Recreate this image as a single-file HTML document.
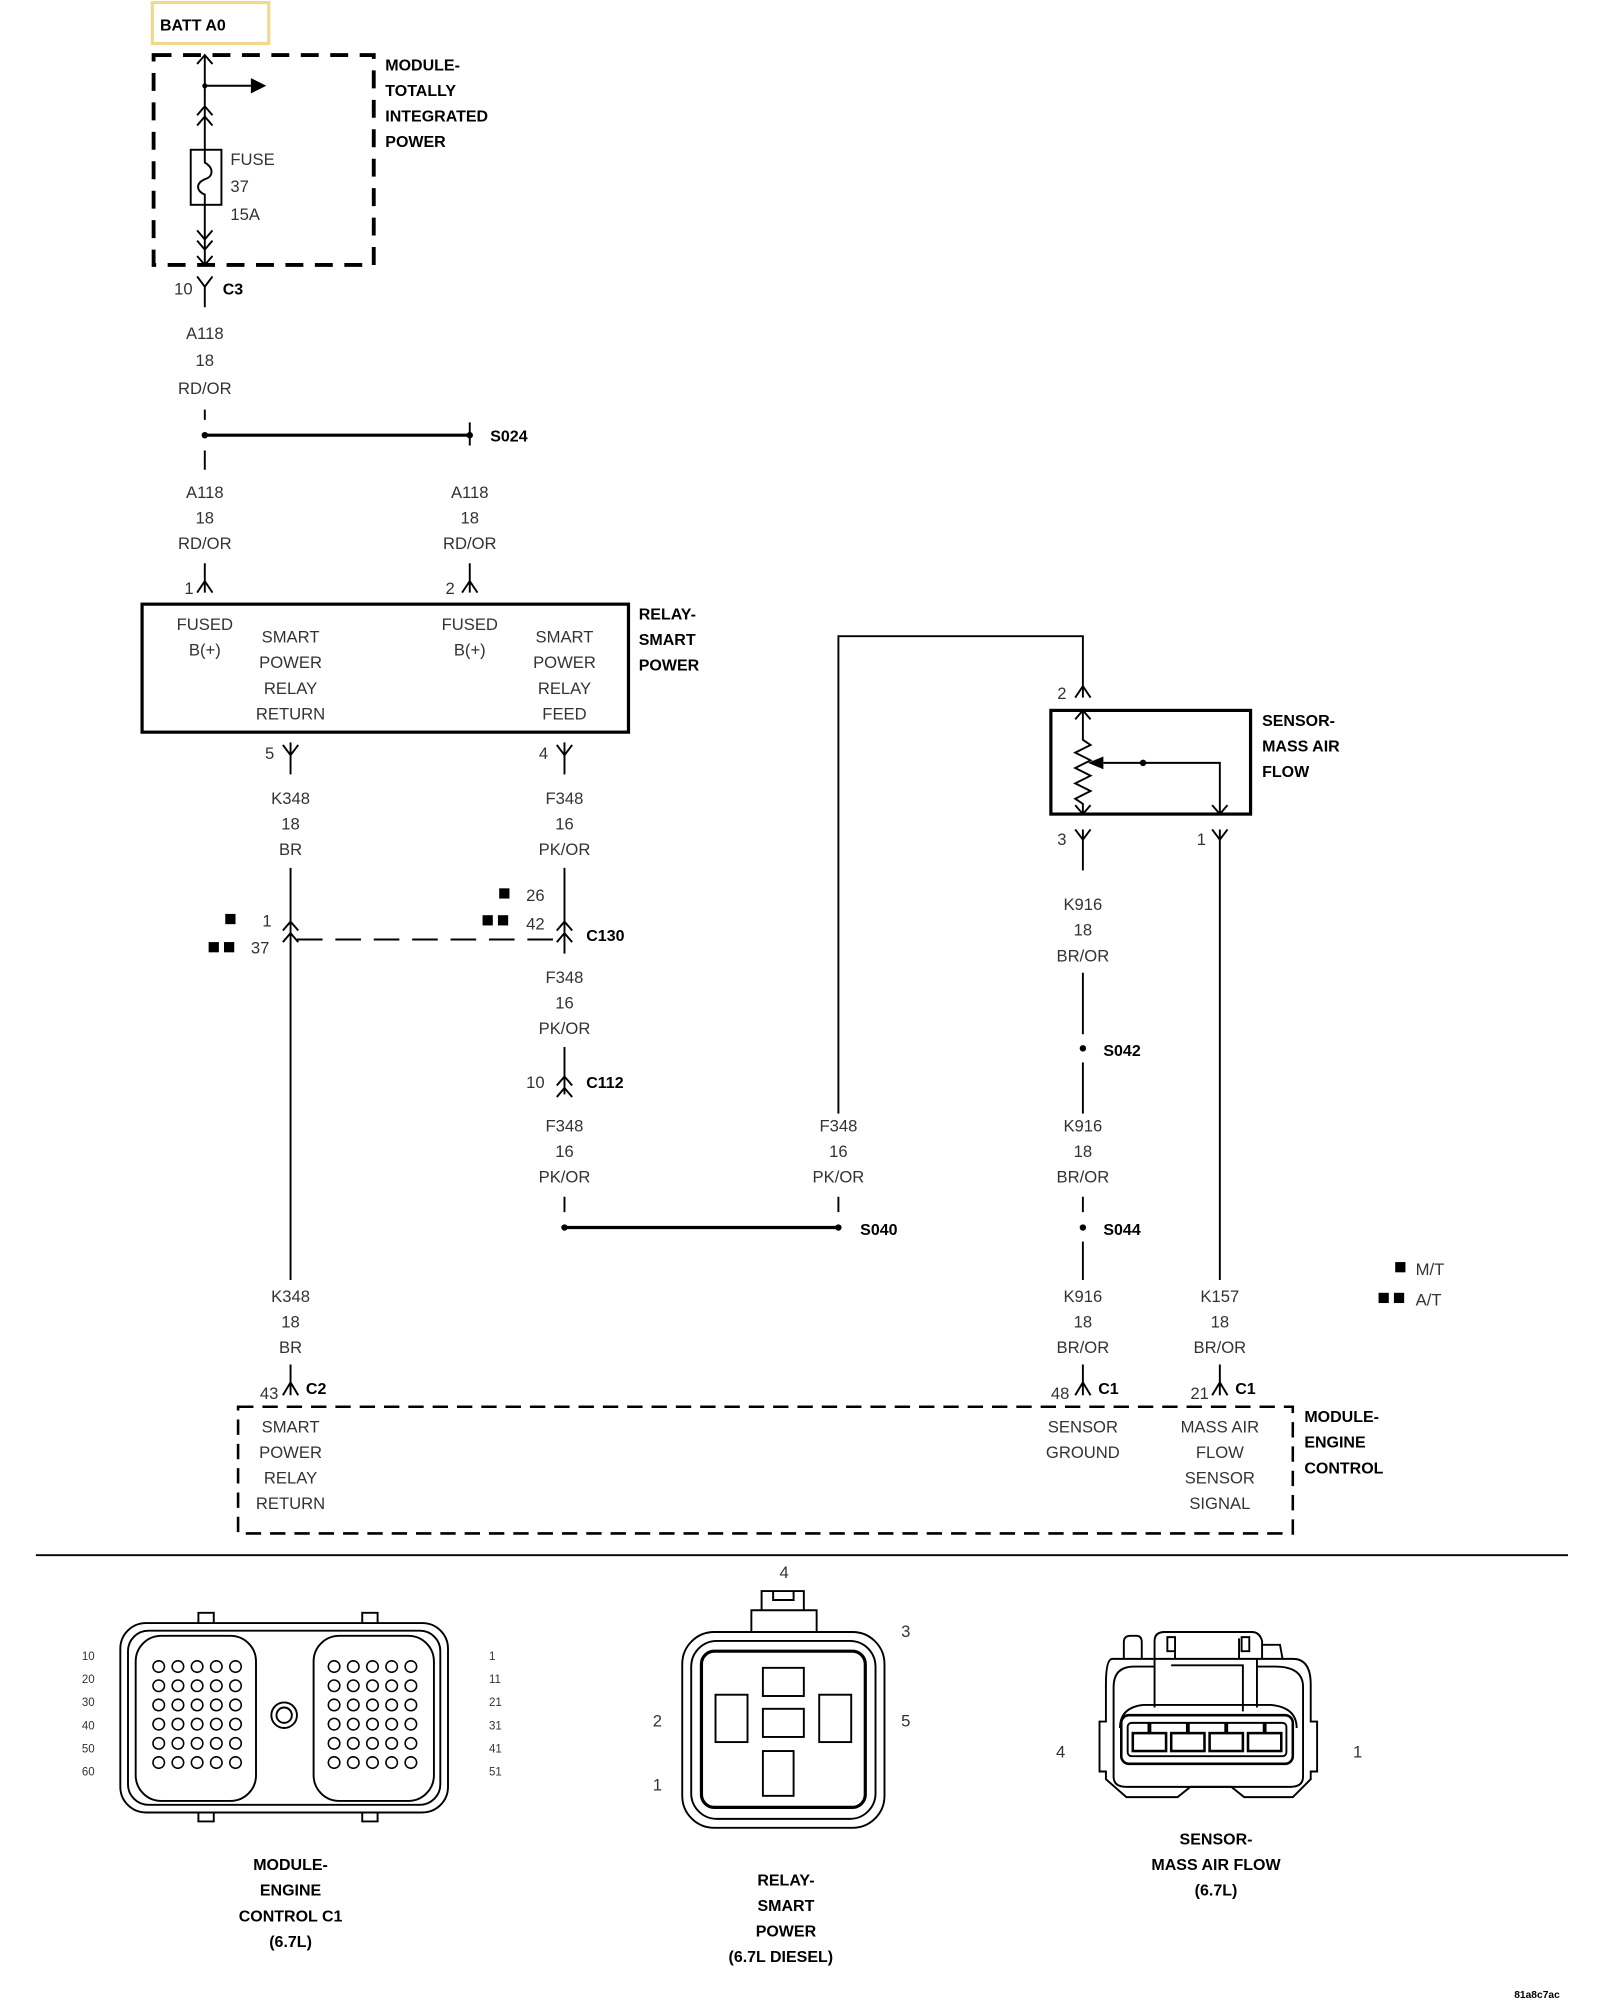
<!DOCTYPE html>
<html><head><style>html,body{margin:0;padding:0;background:#fff}svg{display:block}
text{font-family:"Liberation Sans",sans-serif;font-size:13px;fill:#333}
.b{font-weight:bold;fill:#000;font-size:12.5px}.m{text-anchor:middle}</style></head><body>
<svg width="1600" height="2000" viewBox="0 0 1250 1562.5" xmlns="http://www.w3.org/2000/svg">
<g fill="none" stroke="#000" stroke-width="1.5">
<rect x="119" y="2" width="91" height="32" stroke="#f0d890" stroke-width="2.5"/>
<rect x="120" y="43" width="172" height="164" stroke-width="3" stroke-dasharray="14 9"/>
<path d="M160 43V207M154 50L160 43L166 50M160 67H196M154 90L160 83L166 90M154 98L160 91L166 98M154 180L160 187L166 180M154 188L160 195L166 188M154 200L160 207L166 200"/>
<rect x="149" y="117" width="24" height="43" fill="#fff"/>
<path d="M160 117V127C167 131 167 138 160 140C153 143 153 149 160 152V160"/>
<path d="M154 216L160 224L166 216M160 224V240M160 320V328M160 352V367M367 330V348" />
<path d="M160 340H367" stroke-width="2.5"/>
<path d="M160 440V463M154 463L160 454L166 463M367 440V463M361 463L367 454L373 463"/>
<rect x="111" y="472" width="380" height="100" stroke-width="2.5"/>
<path d="M221 582L227 590L233 582M227 580V605M435 582L441 590L447 582M441 580V605"/>
<path d="M227 678V1000M221 727L227 720L233 727M221 736L227 729L233 736"/>
<path d="M441 678V745M435 727L441 720L447 727M435 736L441 729L447 736"/>
<path d="M232 734H437" stroke-dasharray="20 10"/>
<path d="M441 818V855M435 848L441 841L447 848M435 857L441 850L447 857M441 935V947"/>
<path d="M441 959H655" stroke-width="2.5"/>
<path d="M655 870V497H846V545M840 545L846 536L852 545M655 935V947"/>
<rect x="821" y="555" width="156" height="81" stroke-width="2.5"/>
<path d="M846 555V578L852 582L840 588L852 594L840 600L852 606L840 612L852 618L840 624L846 628V636M840 562L846 555L852 562M840 629L846 636L852 629"/>
<path d="M862 596H953V636M947 629L953 636L959 629"/>
<path d="M840 648L846 656L852 648M846 648V680M947 648L953 656L959 648M953 648V1000"/>
<path d="M846 760V808M846 830V870M846 935V947M846 970V1000M846 1066V1090M840 1090L846 1080L852 1090M953 1066V1090M947 1090L953 1080L959 1090M227 1066V1090M221 1090L227 1080L233 1090"/>
<rect x="186" y="1099" width="824" height="99" stroke-width="2" stroke-dasharray="12 7"/>
<path d="M28 1215H1225" stroke-width="1.5"/>
<rect x="94" y="1268" width="256" height="148" rx="20"/>
<rect x="100" y="1274" width="244" height="136" rx="16"/>
<rect x="106" y="1278" width="94" height="129" rx="20"/>
<rect x="245" y="1278" width="94" height="129" rx="20"/>
<circle cx="222" cy="1340" r="10"/><circle cx="222" cy="1340" r="6"/>
<path d="M155 1268V1260H167V1268M283 1268V1260H295V1268M155 1416V1423H167V1416M283 1416V1423H295V1416"/>
<rect x="533" y="1275" width="158" height="153" rx="25"/>
<rect x="540" y="1282" width="144" height="139" rx="20"/>
<rect x="548" y="1290" width="128" height="122" rx="10" stroke-width="2.5"/>
<path d="M587 1275V1258H638V1275M595 1258V1243H628V1258M604 1243V1250H620V1243"/>
<rect x="596" y="1303" width="32" height="22"/><rect x="559" y="1324" width="25" height="37"/><rect x="640" y="1324" width="25" height="37"/><rect x="596" y="1335" width="32" height="22"/><rect x="596" y="1368" width="24" height="35"/>
<path d="M878 1296V1283Q878 1278 883 1278H888Q892 1278 892 1283V1296"/>
<path d="M902 1296V1282Q902 1275 910 1275H978Q984 1275 986 1282V1296"/>
<path d="M986 1285H1000L1002 1296"/>
<path d="M869 1296H1010Q1024 1296 1024 1316V1345H1029V1384H1024V1390L1010 1404H972L962 1396H930L920 1404H880L864 1390V1384H859V1345H864V1316Q864 1296 869 1296Z"/>
<path d="M902 1302H886Q870 1302 870 1318V1388Q870 1396 880 1396H1008Q1018 1396 1018 1388V1318Q1018 1302 996 1302H982"/>
<path d="M902 1296V1334M982 1296V1334M915 1301H971V1337"/>
<path d="M918 1280V1296M968 1280V1296M912 1279H918V1290H912ZM970 1279H976V1290H970Z"/>
<path d="M875 1350Q875 1334 893 1332H993Q1013 1334 1013 1350"/>
<rect x="876" y="1340" width="134" height="38" rx="6" stroke-width="2"/>
<rect x="881" y="1346" width="124" height="26" rx="3"/>
<rect x="885" y="1354" width="26" height="14" stroke-width="2"/><rect x="915" y="1354" width="26" height="14" stroke-width="2"/><rect x="945" y="1354" width="26" height="14" stroke-width="2"/><rect x="975" y="1354" width="26" height="14" stroke-width="2"/>
<path d="M898 1346V1354M928 1346V1354M958 1346V1354M988 1346V1354" stroke-width="3"/>
</g>
<g fill="#000">
<polygon points="196,61 208,67 196,73"/>
<circle cx="160" cy="67" r="2"/>
<circle cx="160" cy="340" r="2.5"/><circle cx="367" cy="340" r="2.5"/>
<circle cx="441" cy="959" r="2.5"/><circle cx="655" cy="959" r="2.5"/>
<circle cx="846" cy="819" r="2.5"/><circle cx="846" cy="959" r="2.5"/>
<circle cx="893" cy="596" r="2.5"/>
<polygon points="850,596 862,591 862,601"/>
<rect x="176" y="714" width="8" height="8"/><rect x="163" y="736" width="8" height="8"/><rect x="175" y="736" width="8" height="8"/>
<rect x="390" y="694" width="8" height="8"/><rect x="377" y="715" width="8" height="8"/><rect x="389" y="715" width="8" height="8"/>
<rect x="1090" y="986" width="8" height="8"/><rect x="1077" y="1010" width="8" height="8"/><rect x="1089" y="1010" width="8" height="8"/>
</g>
<g fill="none" stroke="#000" stroke-width="1.2">
<g id="hl">
<circle cx="124" cy="1302" r="4.5"/><circle cx="139" cy="1302" r="4.5"/><circle cx="154" cy="1302" r="4.5"/><circle cx="169" cy="1302" r="4.5"/><circle cx="184" cy="1302" r="4.5"/>
</g>
<use href="#hl" y="15"/><use href="#hl" y="30"/><use href="#hl" y="45"/><use href="#hl" y="60"/><use href="#hl" y="75"/>
<use href="#hl" x="137"/><use href="#hl" x="137" y="15"/><use href="#hl" x="137" y="30"/><use href="#hl" x="137" y="45"/><use href="#hl" x="137" y="60"/><use href="#hl" x="137" y="75"/>
</g>
<text x="125" y="24" class="b">BATT A0</text>
<text x="301" y="55" class="b">MODULE-</text><text x="301" y="75" class="b">TOTALLY</text><text x="301" y="95" class="b">INTEGRATED</text><text x="301" y="115" class="b">POWER</text>
<text x="180" y="129">FUSE</text><text x="180" y="150">37</text><text x="180" y="172">15A</text>
<text x="136" y="230">10</text><text x="174" y="230" class="b">C3</text>
<text x="160" y="265" class="m">A118</text><text x="160" y="286" class="m">18</text><text x="160" y="308" class="m">RD/OR</text>
<text x="160" y="389" class="m">A118</text><text x="160" y="409" class="m">18</text><text x="160" y="429" class="m">RD/OR</text>
<text x="367" y="389" class="m">A118</text><text x="367" y="409" class="m">18</text><text x="367" y="429" class="m">RD/OR</text>
<text x="160" y="492" class="m">FUSED</text><text x="160" y="512" class="m">B(+)</text>
<text x="367" y="492" class="m">FUSED</text><text x="367" y="512" class="m">B(+)</text>
<text x="227" y="502" class="m">SMART</text><text x="227" y="522" class="m">POWER</text><text x="227" y="542" class="m">RELAY</text><text x="227" y="562" class="m">RETURN</text>
<text x="441" y="502" class="m">SMART</text><text x="441" y="522" class="m">POWER</text><text x="441" y="542" class="m">RELAY</text><text x="441" y="562" class="m">FEED</text>
<text x="227" y="628" class="m">K348</text><text x="227" y="648" class="m">18</text><text x="227" y="668" class="m">BR</text>
<text x="441" y="628" class="m">F348</text><text x="441" y="648" class="m">16</text><text x="441" y="668" class="m">PK/OR</text>
<text x="441" y="768" class="m">F348</text><text x="441" y="788" class="m">16</text><text x="441" y="808" class="m">PK/OR</text>
<text x="441" y="884" class="m">F348</text><text x="441" y="904" class="m">16</text><text x="441" y="924" class="m">PK/OR</text>
<text x="655" y="884" class="m">F348</text><text x="655" y="904" class="m">16</text><text x="655" y="924" class="m">PK/OR</text>
<text x="846" y="884" class="m">K916</text><text x="846" y="904" class="m">18</text><text x="846" y="924" class="m">BR/OR</text>
<text x="846" y="711" class="m">K916</text><text x="846" y="731" class="m">18</text><text x="846" y="751" class="m">BR/OR</text>
<text x="846" y="1017" class="m">K916</text><text x="846" y="1037" class="m">18</text><text x="846" y="1057" class="m">BR/OR</text>
<text x="953" y="1017" class="m">K157</text><text x="953" y="1037" class="m">18</text><text x="953" y="1057" class="m">BR/OR</text>
<text x="227" y="1017" class="m">K348</text><text x="227" y="1037" class="m">18</text><text x="227" y="1057" class="m">BR</text>
<text x="227" y="1119" class="m">SMART</text><text x="227" y="1139" class="m">POWER</text><text x="227" y="1159" class="m">RELAY</text><text x="227" y="1179" class="m">RETURN</text>
<text x="846" y="1119" class="m">SENSOR</text><text x="846" y="1139" class="m">GROUND</text>
<text x="953" y="1119" class="m">MASS AIR</text><text x="953" y="1139" class="m">FLOW</text><text x="953" y="1159" class="m">SENSOR</text><text x="953" y="1179" class="m">SIGNAL</text>
<text x="227" y="1461" class="b m">MODULE-</text><text x="227" y="1481" class="b m">ENGINE</text><text x="227" y="1501" class="b m">CONTROL C1</text><text x="227" y="1521" class="b m">(6.7L)</text>
<text x="614" y="1473" class="b m">RELAY-</text><text x="614" y="1493" class="b m">SMART</text><text x="614" y="1513" class="b m">POWER</text><text x="610" y="1533" class="b m">(6.7L DIESEL)</text>
<text x="950" y="1441" class="b m">SENSOR-</text><text x="950" y="1461" class="b m">MASS AIR FLOW</text><text x="950" y="1481" class="b m">(6.7L)</text>
<text x="383" y="345" class="b">S024</text>
<text x="144" y="464">1</text><text x="348" y="464">2</text>
<text x="499" y="484" class="b">RELAY-</text><text x="499" y="504" class="b">SMART</text><text x="499" y="524" class="b">POWER</text>
<text x="207" y="593">5</text><text x="421" y="593">4</text>
<text x="205" y="724">1</text><text x="196" y="745">37</text>
<text x="411" y="704">26</text><text x="411" y="726">42</text><text x="458" y="735" class="b">C130</text>
<text x="411" y="850">10</text><text x="458" y="850" class="b">C112</text>
<text x="672" y="965" class="b">S040</text>
<text x="826" y="546">2</text>
<text x="986" y="567" class="b">SENSOR-</text><text x="986" y="587" class="b">MASS AIR</text><text x="986" y="607" class="b">FLOW</text>
<text x="826" y="660">3</text><text x="935" y="660">1</text>
<text x="862" y="825" class="b">S042</text><text x="862" y="965" class="b">S044</text>
<text x="1106" y="996">M/T</text><text x="1106" y="1020">A/T</text>
<text x="203" y="1093">43</text><text x="239" y="1089" class="b">C2</text>
<text x="821" y="1093">48</text><text x="858" y="1089" class="b">C1</text>
<text x="930" y="1093">21</text><text x="965" y="1089" class="b">C1</text>
<text x="1019" y="1111" class="b">MODULE-</text><text x="1019" y="1131" class="b">ENGINE</text><text x="1019" y="1151" class="b">CONTROL</text>
<text x="64" y="1297" style="font-size:9px">10</text><text x="64" y="1315" style="font-size:9px">20</text><text x="64" y="1333" style="font-size:9px">30</text><text x="64" y="1351" style="font-size:9px">40</text><text x="64" y="1369" style="font-size:9px">50</text><text x="64" y="1387" style="font-size:9px">60</text>
<text x="382" y="1297" style="font-size:9px">1</text><text x="382" y="1315" style="font-size:9px">11</text><text x="382" y="1333" style="font-size:9px">21</text><text x="382" y="1351" style="font-size:9px">31</text><text x="382" y="1369" style="font-size:9px">41</text><text x="382" y="1387" style="font-size:9px">51</text>
<text x="609" y="1233">4</text><text x="704" y="1279">3</text><text x="510" y="1349">2</text><text x="704" y="1349">5</text><text x="510" y="1399">1</text>
<text x="825" y="1373">4</text><text x="1057" y="1373">1</text>
<text x="1183" y="1561" class="b" style="font-size:8px">81a8c7ac</text>
</svg>
</body></html>
